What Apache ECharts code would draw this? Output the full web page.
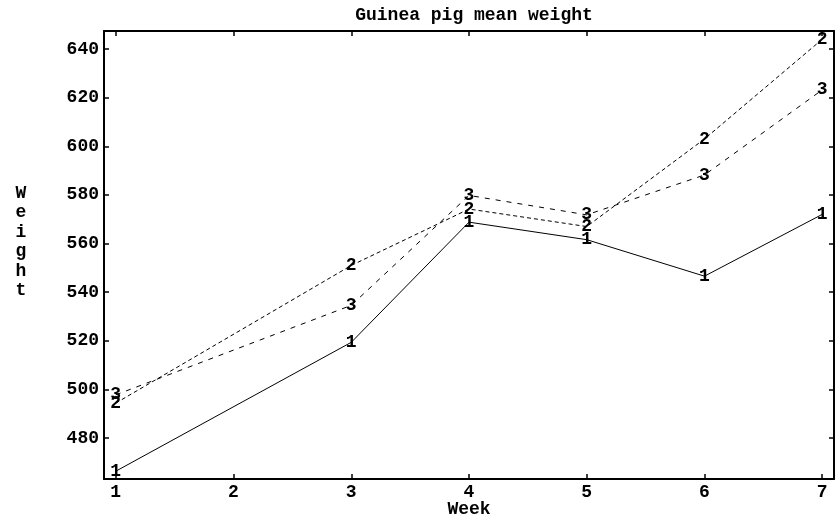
<!DOCTYPE html>
<html>
<head>
<meta charset="utf-8">
<script src="https://cdn.jsdelivr.net/npm/echarts@6/dist/echarts.min.js"></script>
<style>html,body{margin:0;padding:0;background:#fff;}#c{width:839px;height:519px;}</style>
</head>
<body>
<div id="c"></div>
<script>
const weeks = [1, 3, 4, 5, 6, 7];
const group1 = [466.4, 519.4, 568.8, 561.6, 546.6, 572.0];
const group2 = [494.4, 551.0, 574.2, 567.0, 603.0, 644.0];
const group3 = [497.8, 534.6, 579.8, 571.8, 588.2, 623.2];
const xTicks = [1, 2, 3, 4, 5, 6, 7];
const yTicks = [480, 500, 520, 540, 560, 580, 600, 620, 640];
const seriesNames = ['1', '2', '3'];
const yName = 'Weight';

const FONT = 'Liberation Mono';
const FS = 18;
const FW = 'bold';

function pairs(vals) { return weeks.map((w, i) => [w, vals[i]]); }

const dashes = [null, [4, 3], [5, 6]];
const groups = [group1, group2, group3];

const chart = echarts.init(document.getElementById('c'), null, {renderer: 'canvas'});
const axisLine = {show: true, lineStyle: {color: '#000', width: 2}};
const baseX = {
  type: 'value', min: 0.9, max: 7.1,
  axisLine: axisLine, splitLine: {show: false},
  axisTick: {show: true, inside: true, length: 5, customValues: xTicks, lineStyle: {color: '#000', width: 1.5}}
};
const baseY = {
  type: 'value', min: 463.2, max: 647.4,
  axisLine: axisLine, splitLine: {show: false},
  axisTick: {show: true, inside: true, length: 5, customValues: yTicks, lineStyle: {color: '#000', width: 1.5}}
};
chart.setOption({
  animation: false,
  backgroundColor: '#fff',
  title: {
    text: 'Guinea pig mean weight', left: 469, top: 1, textAlign: 'center',
    textStyle: {fontFamily: FONT, fontSize: FS, fontWeight: FW, color: '#000'}
  },
  graphic: [{
    type: 'text', x: 21, y: 242,
    style: {
      text: yName.split('').join('\n'), align: 'center', verticalAlign: 'middle',
      font: FW + ' ' + FS + 'px "' + FONT + '"', lineHeight: 19.4, fill: '#000'
    }
  }],
  grid: {left: 104, top: 31, width: 730, height: 448, outerBoundsMode: 'none', containLabel: false},
  xAxis: [
    Object.assign({}, baseX, {
      position: 'bottom',
      name: 'Week', nameLocation: 'middle', nameGap: 21, nameMoveOverlap: false,
      nameTextStyle: {fontFamily: FONT, fontSize: FS, fontWeight: FW, color: '#000'},
      axisLabel: {show: true, customValues: xTicks, margin: 4, fontFamily: FONT, fontSize: FS, fontWeight: FW, color: '#000'}
    }),
    Object.assign({}, baseX, {position: 'top', axisLabel: {show: false}})
  ],
  yAxis: [
    Object.assign({}, baseY, {
      position: 'left',
      axisLabel: {show: true, customValues: yTicks, margin: 5, fontFamily: FONT, fontSize: FS, fontWeight: FW, color: '#000'}
    }),
    Object.assign({}, baseY, {position: 'right', axisLabel: {show: false}})
  ],
  series: groups.map((g, i) => ({
    name: seriesNames[i],
    type: 'line',
    data: pairs(g),
    xAxisIndex: 0, yAxisIndex: 0,
    symbol: 'circle', symbolSize: 10,
    itemStyle: {color: 'rgba(0,0,0,0)'},
    lineStyle: {color: '#000', width: 1, type: dashes[i] || 'solid'},
    label: {
      show: true, position: 'inside', formatter: seriesNames[i],
      fontFamily: FONT, fontSize: FS, fontWeight: FW, color: '#000'
    },
    emphasis: {disabled: true}
  }))
});
</script>
</body>
</html>
